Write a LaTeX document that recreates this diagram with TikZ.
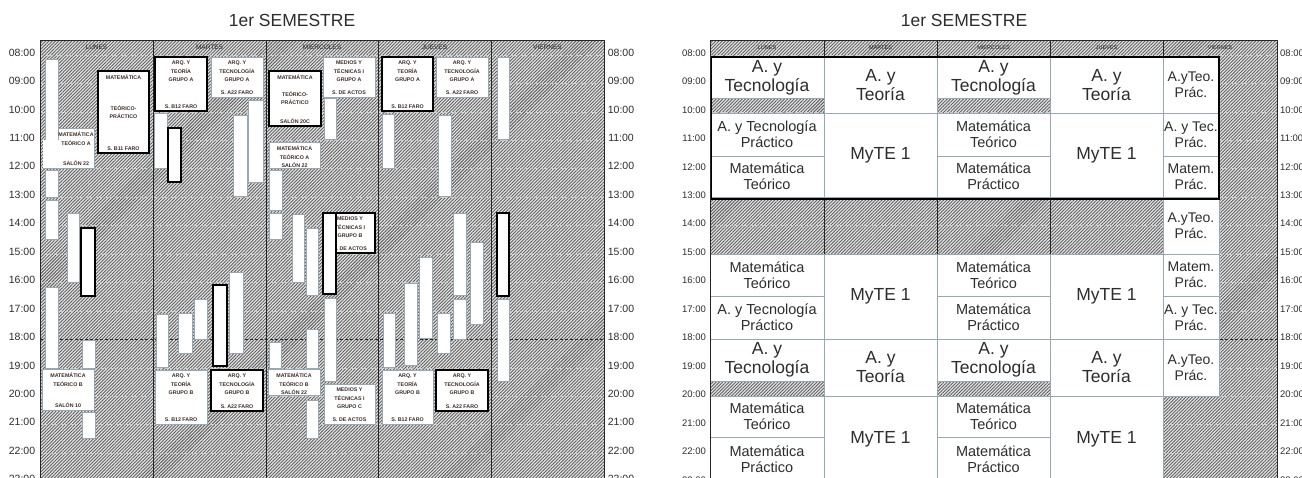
\documentclass[tikz,border=0pt]{standalone}
\usepackage{fontspec}
\setmainfont{Liberation Sans}
\usetikzlibrary{patterns.meta}
\definecolor{edgegray}{RGB}{150,168,180}
\definecolor{txtgray}{RGB}{45,45,45}
\definecolor{tinybrown}{RGB}{60,45,40}
\tikzset{
 hatch/.style={fill=black!10, postaction={pattern={Lines[angle=45,distance=2.3pt,line width=0.9pt]}, pattern color=black!62}},
 hourline/.style={draw=white!60!gray, densely dashed, line width=0.8pt},
 darkline/.style={draw=black!85, densely dashed, line width=0.8pt},
 colline/.style={draw=black!85, line width=0.6pt},
 wbar/.style={fill=white, draw=edgegray, line width=0.5pt},
 thk/.style={fill=white, draw=black, line width=2.6pt},
 rcell/.style={fill=white, draw=edgegray, line width=0.7pt},
 tinytxt/.style={font=\fontsize{5.3}{8.3}\selectfont\bfseries, text=tinybrown, align=center, inner sep=0pt},
 daytxt/.style={font=\fontsize{6.5}{7}\selectfont, text=black!85, inner sep=0pt},
 rdaytxt/.style={font=\fontsize{5.5}{6}\selectfont, text=black!85, inner sep=0pt},
 timetxt/.style={font=\fontsize{10.5}{12}\selectfont, text=txtgray, inner sep=0pt},
 rtimetxt/.style={font=\fontsize{9.5}{11}\selectfont, text=txtgray, inner sep=0pt},
 titletxt/.style={font=\fontsize{17.5}{20}\selectfont, text=txtgray, inner sep=0pt},
 bigtxt/.style={font=\fontsize{17.5}{19}\selectfont, text=txtgray, align=center, inner sep=0pt},
 smalltxt/.style={font=\fontsize{14.5}{16}\selectfont, text=txtgray, align=center, inner sep=0pt},
 vtxt/.style={font=\fontsize{14}{16}\selectfont, text=txtgray, align=center, inner sep=0pt},
}
\newcommand{\lbx}[9]{%
 \draw[#6] (#2,#3) rectangle (#4,#5);
 \node[tinytxt, anchor=north] (#1-t) at ({(#2+#4)/2},{#3+4}) {#7};
 \node[tinytxt] (#1-m) at ({(#2+#4)/2},{(#3+#5)/2}) {#8};
 \node[tinytxt, anchor=south] (#1-b) at ({(#2+#4)/2},{#5-2.5}) {#9};
}
\newcommand{\rc}[7]{%
 \draw[rcell] (#2,#3) rectangle (#4,#5);
 \node[#6] (#1) at ({(#2+#4)/2},{(#3+#5)/2}) {#7};
}
\begin{document}
\begin{tikzpicture}[x=1pt,y=-1pt]
\useasboundingbox (0,0) rectangle (1302,477);
\fill[white] (0,0) rectangle (1302,477);
\begin{scope}
\clip (0,0) rectangle (1302,477);
% ---------- titles
\node[titletxt] (t1) at (292,20) {1er SEMESTRE};
\node[titletxt] (t2) at (964,20) {1er SEMESTRE};
% ---------- backgrounds
\fill[hatch] (40,40) rectangle (604,495);
\fill[hatch] (710,40) rectangle (1277,495);
\foreach \i in {0,...,15}{
  \draw[hourline] (40,{55+28.45*\i}) -- (604,{55+28.45*\i});
  \draw[hourline] (710,{55+28.45*\i}) -- (1277,{55+28.45*\i});
}
\draw[darkline] (40,339.5) -- (604,339.5);
\draw[darkline] (710,339.5) -- (1277,339.5);
\foreach \x in {153,266,378,491}{\draw[colline] (\x,40) -- (\x,495);}
\foreach \x in {824,937,1050,1163}{\draw[colline] (\x,40) -- (\x,495);}
% ---------- time labels
\foreach \lab [count=\i from 0] in {08,09,10,11,12,13,14,15,16,17,18,19,20,21,22,23}{
  \node[timetxt] (la\i) at (22,{52.5+28.45*\i}) {\lab:00};
  \node[timetxt] (lb\i) at (621,{52.5+28.45*\i}) {\lab:00};
  \node[rtimetxt] (lc\i) at (694,{53+28.45*\i}) {\lab:00};
  \node[rtimetxt, anchor=west] (ld\i) at (1280,{53+28.45*\i}) {\lab:00};
}
% ---------- headers
\node[daytxt] (h1) at (96.5,47.5) {LUNES};
\node[daytxt] (h2) at (209.5,47.5) {MARTES};
\node[daytxt] (h3) at (322,47.5) {MIERCOLES};
\node[daytxt] (h4) at (434.5,47.5) {JUEVES};
\node[daytxt] (h5) at (547.5,47.5) {VIERNES};
\node[rdaytxt] (r1) at (767,48) {LUNES};
\node[rdaytxt] (r2) at (880.5,48) {MARTES};
\node[rdaytxt] (r3) at (993.5,48) {MIERCOLES};
\node[rdaytxt] (r4) at (1106.5,48) {JUEVES};
\node[rdaytxt] (r5) at (1220,48) {VIERNES};
% ================= LEFT PANEL
% LUNES
\draw[wbar] (45,59) rectangle (58,140);
\draw[wbar] (43,140) rectangle (60,168);
\lbx{lmA}{58}{128}{94}{168}{wbar}{MATEMÁTICA\\TEÓRICO A}{}{SALÓN 22}
\fill[white] (43.3,140.3) rectangle (58.6,167.7);
\draw[wbar] (45,170) rectangle (58,197);
\draw[wbar] (45,200) rectangle (58,239);
\draw[wbar] (67,213) rectangle (79,282);
\draw[wbar] (45,287) rectangle (58,368);
\draw[wbar] (82,340) rectangle (95,368);
\draw[wbar] (82,412) rectangle (95,438);
\draw[thk] (81,228) rectangle (95,296);
\lbx{lmTP}{98}{71}{149}{153}{thk}{MATEMÁTICA}{TEÓRICO-\\PRÁCTICO}{S. B11 FARO}
\lbx{lmB}{42}{369}{94}{410}{wbar}{MATEMÁTICA\\TEÓRICO B}{}{SALÓN 10}
% MARTES
\lbx{maA}{155}{57}{207}{111}{thk}{ARQ. Y\\TEORÍA\\GRUPO A}{}{S. B12 FARO}
\lbx{mtA}{211}{57}{263}{97}{wbar}{ARQ. Y\\TECNOLOGÍA\\GRUPO A}{}{S. A22 FARO}
\draw[wbar] (154,113) rectangle (167,168);
\draw[wbar] (233,115) rectangle (247,196);
\draw[wbar] (248,100) rectangle (263,182);
\draw[thk] (168,128) rectangle (181,182);
\draw[wbar] (156,314) rectangle (168,367);
\draw[wbar] (178,313) rectangle (192,353);
\draw[wbar] (194,299) rectangle (207,339);
\draw[wbar] (229,272) rectangle (243,353);
\draw[thk] (213,285) rectangle (227,366);
\lbx{maB}{155}{370}{207}{424}{wbar}{ARQ. Y\\TEORÍA\\GRUPO B}{}{S. B12 FARO}
\lbx{mtB}{211}{370}{263}{411}{thk}{ARQ. Y\\TECNOLOGÍA\\GRUPO B}{}{S. A22 FARO}
% MIERCOLES
\lbx{xmTP}{269}{71}{321}{126}{thk}{MATEMÁTICA}{TEÓRICO-\\PRÁCTICO}{SALÓN 20C}
\lbx{xmA}{323}{57}{375}{97}{wbar}{MEDIOS Y\\TÉCNICAS I\\GRUPO A}{}{S. DE ACTOS}
\draw[wbar] (324,98) rectangle (336,139);
\lbx{xmtA}{269}{142}{320}{168}{wbar}{MATEMÁTICA\\TEÓRICO A\\SALÓN 22}{}{}
\draw[wbar] (269,170) rectangle (282,210);
\draw[wbar] (269,213) rectangle (282,239);
\draw[wbar] (292,214) rectangle (304,282);
\draw[wbar] (306,228) rectangle (318,295);
\lbx{xmB}{325}{213}{375}{253}{thk}{MEDIOS Y\\TÉCNICAS I\\GRUPO B}{}{S. DE ACTOS}
\draw[thk] (323,213) rectangle (336,294);
\draw[wbar] (324,298) rectangle (336,381);
\lbx{xmC}{324}{384}{375}{424}{wbar}{MEDIOS Y\\TÉCNICAS I\\GRUPO C}{}{S. DE ACTOS}
\lbx{xmtB}{268}{369}{320}{395}{wbar}{MATEMÁTICA\\TEÓRICO B\\SALÓN 22}{}{}
\draw[wbar] (269,342) rectangle (281,368);
\draw[wbar] (306,329) rectangle (318,368);
\draw[wbar] (306,400) rectangle (318,438);
% JUEVES
\lbx{jaA}{382}{57}{433}{111}{thk}{ARQ. Y\\TEORÍA\\GRUPO A}{}{S. B12 FARO}
\lbx{jtA}{436}{57}{488}{97}{wbar}{ARQ. Y\\TECNOLOGÍA\\GRUPO A}{}{S. A22 FARO}
\draw[wbar] (382,114) rectangle (394,168);
\draw[wbar] (438,115) rectangle (451,196);
\draw[wbar] (453,213) rectangle (466,295);
\draw[wbar] (383,313) rectangle (395,367);
\draw[wbar] (404,283) rectangle (417,365);
\draw[wbar] (419,257) rectangle (432,338);
\draw[wbar] (437,313) rectangle (450,353);
\draw[wbar] (453,299) rectangle (466,339);
\draw[wbar] (470,242) rectangle (483,324);
\lbx{jaB}{382}{370}{433}{424}{wbar}{ARQ. Y\\TEORÍA\\GRUPO B}{}{S. B12 FARO}
\lbx{jtB}{436}{370}{488}{411}{thk}{ARQ. Y\\TECNOLOGÍA\\GRUPO B}{}{S. A22 FARO}
% VIERNES
\draw[wbar] (497,57) rectangle (509,139);
\draw[wbar] (497,299) rectangle (509,381);
\draw[thk] (497,213) rectangle (509,296);
% frame
\draw[colline] (40,40) rectangle (604,495);
% ================= RIGHT PANEL
% LUNES
\rc{rl1}{710}{57}{824}{98}{bigtxt}{A. y\\Tecnología}
\rc{rl2}{710}{113}{824}{156}{smalltxt}{A. y Tecnología\\Práctico}
\rc{rl3}{710}{156}{824}{197}{smalltxt}{Matemática\\Teórico}
\rc{rl4}{710}{254}{824}{296}{smalltxt}{Matemática\\Teórico}
\rc{rl5}{710}{296}{824}{339}{smalltxt}{A. y Tecnología\\Práctico}
\rc{rl6}{710}{339}{824}{381}{bigtxt}{A. y\\Tecnología}
\rc{rl7}{710}{396}{824}{437}{smalltxt}{Matemática\\Teórico}
\rc{rl8}{710}{437}{824}{482}{smalltxt}{Matemática\\Práctico}
% MARTES
\rc{rm1}{824}{57}{937}{113}{bigtxt}{A. y\\Teoría}
\rc{rm2}{824}{113}{937}{197}{bigtxt}{MyTE 1}
\rc{rm3}{824}{254}{937}{339}{bigtxt}{MyTE 1}
\rc{rm4}{824}{339}{937}{396}{bigtxt}{A. y\\Teoría}
\rc{rm5}{824}{396}{937}{482}{bigtxt}{MyTE 1}
% MIERCOLES
\rc{rx1}{937}{57}{1050}{98}{bigtxt}{A. y\\Tecnología}
\rc{rx2}{937}{113}{1050}{156}{smalltxt}{Matemática\\Teórico}
\rc{rx3}{937}{156}{1050}{197}{smalltxt}{Matemática\\Práctico}
\rc{rx4}{937}{254}{1050}{296}{smalltxt}{Matemática\\Teórico}
\rc{rx5}{937}{296}{1050}{339}{smalltxt}{Matemática\\Práctico}
\rc{rx6}{937}{339}{1050}{381}{bigtxt}{A. y\\Tecnología}
\rc{rx7}{937}{396}{1050}{437}{smalltxt}{Matemática\\Teórico}
\rc{rx8}{937}{437}{1050}{482}{smalltxt}{Matemática\\Práctico}
% JUEVES
\rc{rj1}{1050}{57}{1163}{113}{bigtxt}{A. y\\Teoría}
\rc{rj2}{1050}{113}{1163}{197}{bigtxt}{MyTE 1}
\rc{rj3}{1050}{254}{1163}{339}{bigtxt}{MyTE 1}
\rc{rj4}{1050}{339}{1163}{396}{bigtxt}{A. y\\Teoría}
\rc{rj5}{1050}{396}{1163}{482}{bigtxt}{MyTE 1}
% VIERNES
\rc{rv1}{1163}{57}{1219}{113}{vtxt}{A.yTeo.\\Prác.}
\rc{rv2}{1163}{113}{1219}{156}{vtxt}{A. y Tec.\\Prác.}
\rc{rv3}{1163}{156}{1219}{197}{vtxt}{Matem.\\Prác.}
\rc{rv4}{1163}{197}{1219}{254}{vtxt}{A.yTeo.\\Prác.}
\rc{rv5}{1163}{254}{1219}{296}{vtxt}{Matem.\\Prác.}
\rc{rv6}{1163}{296}{1219}{339}{vtxt}{A. y Tec.\\Prác.}
\rc{rv7}{1163}{339}{1219}{396}{vtxt}{A.yTeo.\\Prác.}
% thick frame morning block
\draw[draw=black, line width=2.8pt] (711,57) rectangle (1219,199);
\draw[colline] (710,40) rectangle (1277,495);
\end{scope}
\end{tikzpicture}
\end{document}
